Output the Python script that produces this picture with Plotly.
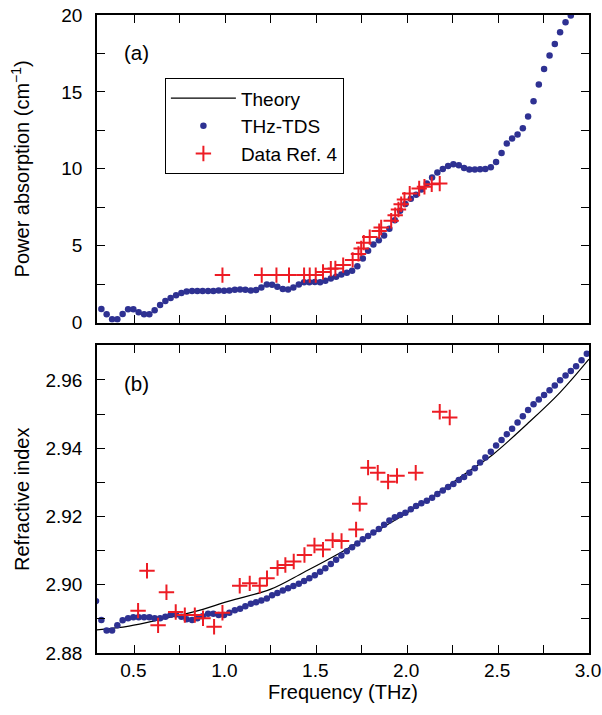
import plotly.graph_objects as go

# ---------------- data ----------------
freq = [0.289,
        0.318, 0.347, 0.377, 0.406, 0.435, 0.465, 0.494, 0.523, 0.553, 0.582,
        0.611, 0.641, 0.670, 0.699, 0.729, 0.758, 0.787, 0.817, 0.846, 0.875,
        0.905, 0.934, 0.963, 0.993, 1.022, 1.052, 1.081, 1.110, 1.140, 1.169,
        1.198, 1.228, 1.257, 1.286, 1.316, 1.345, 1.374, 1.404, 1.433, 1.462,
        1.492, 1.521, 1.550, 1.580, 1.609, 1.638, 1.668, 1.697, 1.726, 1.756,
        1.785, 1.814, 1.844, 1.873, 1.902, 1.932, 1.961, 1.990, 2.020, 2.049,
        2.078, 2.108, 2.137, 2.166, 2.196, 2.225, 2.254, 2.284, 2.313, 2.342,
        2.372, 2.401, 2.430, 2.460, 2.489, 2.519, 2.548, 2.577, 2.607, 2.636,
        2.665, 2.695, 2.724, 2.753, 2.783, 2.812, 2.841, 2.871, 2.900, 2.929,
        2.959, 2.988]

absorption_tds = [None,
        0.88, 0.55, 0.22, 0.22, 0.56, 0.87, 0.87, 0.67, 0.55, 0.55,
        0.81, 1.14, 1.41, 1.60, 1.78, 1.92, 2.03, 2.06, 2.06, 2.06,
        2.06, 2.06, 2.09, 2.07, 2.09, 2.14, 2.16, 2.14, 2.09, 2.12,
        2.29, 2.48, 2.46, 2.33, 2.18, 2.16, 2.29, 2.48, 2.63, 2.63,
        2.65, 2.63, 2.72, 2.87, 2.98, 3.13, 3.24, 3.37, 3.67, 4.17,
        4.67, 5.08, 5.36, 5.66, 6.10, 6.66, 7.27, 7.72, 8.05, 8.31,
        8.65, 9.04, 9.43, 9.76, 9.99, 10.19, 10.30, 10.23, 10.06, 9.95,
        9.95, 9.97, 9.99, 10.10, 10.45, 11.03, 11.64, 11.97, 12.23, 12.64,
        13.40, 14.39, 15.48, 16.49, 17.36, 18.12, 18.88, 19.53, 19.96, 20.5,
        21.1, 21.7]

index_tds = [2.8952,
        2.8897, 2.8866, 2.8866, 2.8881, 2.8896, 2.8902, 2.8905, 2.8905, 2.8905, 2.8905,
        2.8902, 2.8902, 2.8906, 2.8912, 2.8913, 2.8906, 2.8899, 2.8897, 2.8902, 2.8908,
        2.8915, 2.8915, 2.8911, 2.8911, 2.8918, 2.8925, 2.8930, 2.8937, 2.8944, 2.8949,
        2.8954, 2.8960, 2.8969, 2.8976, 2.8983, 2.8990, 2.8996, 2.9003, 2.9011, 2.9019,
        2.9028, 2.9038, 2.9048, 2.9061, 2.9073, 2.9086, 2.9098, 2.9110, 2.9121, 2.9133,
        2.9143, 2.9153, 2.9163, 2.9176, 2.9188, 2.9198, 2.9204, 2.9211, 2.9221, 2.9231,
        2.9239, 2.9246, 2.9255, 2.9266, 2.9276, 2.9286, 2.9295, 2.9307, 2.9316, 2.9328,
        2.9341, 2.9358, 2.9373, 2.9390, 2.9408, 2.9424, 2.9441, 2.9457, 2.9475, 2.9494,
        2.9512, 2.9529, 2.9543, 2.9556, 2.9570, 2.9584, 2.9599, 2.9613, 2.9626, 2.9640,
        2.9658, 2.9677]

ref4_abs_freq = [0.984, 1.200, 1.281, 1.350, 1.433, 1.464, 1.497, 1.537, 1.580, 1.605,
                 1.648, 1.700, 1.732, 1.747, 1.761, 1.794, 1.846, 1.857, 1.912, 1.934,
                 1.952, 1.967, 1.985, 2.014, 2.066, 2.095, 2.135, 2.179]
ref4_abs = [3.09, 3.09, 3.09, 3.09, 3.09, 3.09, 3.09, 3.30, 3.50, 3.52,
            3.74, 4.08, 4.47, 4.82, 5.20, 5.56, 5.95, 6.19, 6.62, 6.98,
            7.36, 7.70, 8.00, 8.39, 8.72, 8.83, 9.00, 9.04]

ref4_n_freq = [0.520, 0.569, 0.630, 0.676, 0.727, 0.777, 0.832, 0.877, 0.938, 0.984,
               1.079, 1.134, 1.189, 1.229, 1.287, 1.330, 1.376, 1.435, 1.490, 1.537,
               1.590, 1.639, 1.719, 1.739, 1.785, 1.838, 1.895, 1.944, 2.047, 2.179,
               2.234]
ref4_n = [2.8924, 2.9041, 2.8881, 2.8978, 2.8920, 2.8911, 2.8911, 2.8902, 2.8877, 2.8918,
          2.8997, 2.9004, 2.8997, 2.9019, 2.9049, 2.9058, 2.9068, 2.9087, 2.9115, 2.9103,
          2.9130, 2.9128, 2.9162, 2.9237, 2.9343, 2.9328, 2.9302, 2.9319, 2.9328, 2.9507,
          2.9490]

theory_freq = [0.28, 0.47, 0.65, 0.83, 1.02, 1.25, 1.43, 1.61, 1.79, 1.98,
               2.16, 2.34, 2.47, 2.66, 2.84, 3.00]
theory_n = [2.8867, 2.8879, 2.8899, 2.8921, 2.8952, 2.8987, 2.9036, 2.9087, 2.9144, 2.9204,
            2.9266, 2.9333, 2.9381, 2.9471, 2.9563, 2.9661]

# ---------------- style ----------------
FONT = "Liberation Sans, Arial, Helvetica, sans-serif"
BLUE = "#2e3192"
RED = "#ed1c24"
TICKFS = 19
TITLEFS = 20
dot = dict(color=BLUE, size=6.5, symbol="circle")
cross = dict(color=RED, size=11, symbol="cross-thin", line=dict(color=RED, width=2))

fig = go.Figure()
fig.add_trace(go.Scatter(x=theory_freq, y=theory_n, mode="lines", name="Theory",
                         line=dict(color="black", width=1.2, shape="spline"),
                         xaxis="x", yaxis="y"))
fig.add_trace(go.Scatter(x=freq, y=absorption_tds, mode="markers", name="THz-TDS",
                         marker=dot, xaxis="x2", yaxis="y2"))
fig.add_trace(go.Scatter(x=freq, y=index_tds, mode="markers", name="THz-TDS",
                         marker=dot, xaxis="x", yaxis="y", showlegend=False))
fig.add_trace(go.Scatter(x=ref4_abs_freq, y=ref4_abs, mode="markers", name="Data Ref. 4",
                         marker=cross, xaxis="x2", yaxis="y2"))
fig.add_trace(go.Scatter(x=ref4_n_freq, y=ref4_n, mode="markers", name="Data Ref. 4",
                         marker=cross, xaxis="x", yaxis="y", showlegend=False))

minor_common = dict(ticks="inside", ticklen=8, tickcolor="black", tickwidth=1.3)
axcommon = dict(showline=True, linecolor="black", linewidth=1.5, mirror="ticks",
                ticks="inside", ticklen=8, tickwidth=1.3, tickcolor="black",
                showgrid=False, zeroline=False, automargin=False,
                tickfont=dict(family=FONT, size=TICKFS, color="black"))

fig.update_layout(
    template="none",
    width=602, height=715,
    margin=dict(l=97, r=13, t=15, b=62, autoexpand=False),
    paper_bgcolor="white", plot_bgcolor="white",
    font=dict(family=FONT, size=TITLEFS, color="black"),
    xaxis=dict(domain=[0, 1], anchor="y", range=[0.294, 3.0], dtick=0.5, tick0=0.5,
               tickformat=".1f", minor=dict(dtick=0.25, **minor_common),
               ticklabeloverflow="allow", ticklabelstandoff=-1, ticklabelshift=-1,
               title=dict(text="Frequency (THz)", font=dict(family=FONT, size=TITLEFS), standoff=3),
               **axcommon),
    yaxis=dict(domain=[0, 0.482], anchor="x", range=[2.88, 2.9701], dtick=0.02, tick0=2.88,
               tickformat=".2f", minor=dict(dtick=0.01, **minor_common),
               ticklabelstandoff=9, ticklabeloverflow="allow",
               title=dict(text="Refractive index", font=dict(family=FONT, size=TITLEFS), standoff=10),
               **axcommon),
    xaxis2=dict(domain=[0, 1], anchor="y2", matches="x", range=[0.294, 3.0], dtick=0.5, tick0=0.5,
                showticklabels=False, minor=dict(dtick=0.25, **minor_common),
                **axcommon),
    yaxis2=dict(domain=[0.5178, 1], anchor="x2", range=[0, 20], dtick=5, tick0=0,
                minor=dict(dtick=2.5, **minor_common),
                ticklabelstandoff=9, ticklabeloverflow="allow",
                title=dict(text="Power absorption (cm<sup>−1</sup>)",
                           font=dict(family=FONT, size=TITLEFS), standoff=26),
                **axcommon),
    legend=dict(x=0.138, y=0.9008, xanchor="left", yanchor="top",
                bordercolor="black", borderwidth=1, bgcolor="white",
                font=dict(family=FONT, size=19, color="black"),
                itemwidth=65),
    showlegend=True,
    annotations=[
        dict(text="(a)", x=0.0813, y=0.9416, xref="paper", yref="paper", showarrow=False,
             font=dict(family=FONT, size=20.5), xanchor="center", yanchor="middle"),
        dict(text="(b)", x=0.0813, y=0.423, xref="paper", yref="paper", showarrow=False,
             font=dict(family=FONT, size=20.5), xanchor="center", yanchor="middle"),
    ],
)

fig.write_html("out.html",
               post_script="document.body.style.margin='0';document.body.style.overflow='hidden';")
